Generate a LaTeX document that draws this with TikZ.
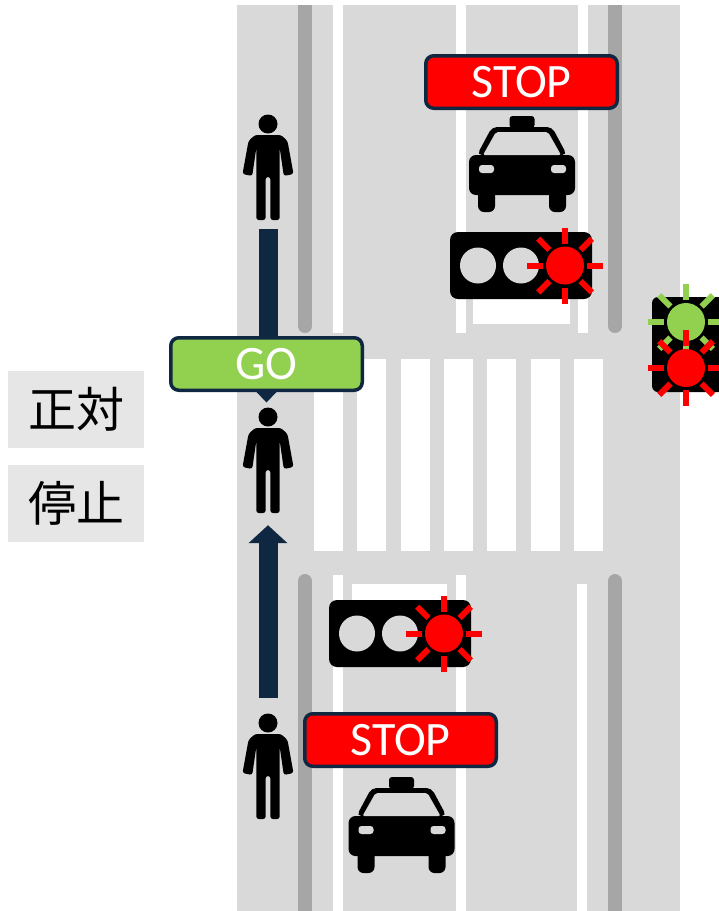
\documentclass[tikz,border=0pt]{standalone}
\usepackage{fontspec}
\usetikzlibrary{arrows.meta}
\newfontfamily\signfont{Carlito}
\newfontfamily\cjkfont{Noto Sans CJK JP}

\definecolor{roadgray}{HTML}{D9D9D9}
\definecolor{curbgray}{HTML}{A6A6A6}
\definecolor{taggray}{HTML}{E7E6E6}
\definecolor{navy}{HTML}{0F2740}
\definecolor{stopred}{HTML}{FF0000}
\definecolor{gogreen}{HTML}{92D050}

\tikzset{
  signbox/.style={draw=navy,line width=3.5pt,rounded corners=8pt,
    minimum width=191.5pt,minimum height=52.5pt,inner sep=0pt,
    text=white,font=\signfont\fontsize{48}{48}\selectfont},
  labelbox/.style={fill=taggray,minimum width=136pt,minimum height=77pt,inner sep=0pt,
    font=\cjkfont\fontsize{48}{48}\selectfont},
  curb/.style={curbgray,line width=14pt,line cap=round},
  laneline/.style={white,line width=10pt},
  walkbar/.style={navy,line width=19pt},
  walkarrow/.style={walkbar,-{Triangle[width=38pt,length=18pt]}},
  pics/lamp/.style={code={
    \foreach \a in {0,45,...,315}
      \draw[#1,line width=6pt] (\a:22) -- (\a:38);
    \fill[#1] (0,0) circle[radius=19];
  }},
  pics/signal/.style={code={
    \node[fill=black,rounded corners=8pt,minimum width=142pt,minimum height=67pt,inner sep=0pt] (-box) at (0,0) {};
    \fill[roadgray] (-43,0) circle[radius=18] (0,0) circle[radius=18];
    \pic at (44,0) {lamp=stopred};
  }},
  pics/walker/.style={code={
    \node[minimum width=51pt,minimum height=105.5pt,inner sep=0pt] (-box) at (0,43.25) {};
    \fill (0,0) circle[radius=9.5];
    \fill[rounded corners=2.5pt] (-11.7,96) -- (-11.7,24) -- (-15.8,52) -- (-25.5,50)
      -- (-19.5,17) -- (-13,11) -- (13,11) -- (19.5,17) -- (25.5,50) -- (15.8,52)
      -- (11.7,24) -- (11.7,96) -- (2.4,96) -- (2.4,53) -- (-2.4,53) -- (-2.4,96) -- cycle;
  }},
  pics/taxi/.style={code={
    \fill[rounded corners=3pt] (-12.5,-36) rectangle (12.5,-48);
    \fill[rounded corners=5pt] (-45,-9) -- (-30,-37) -- (30,-37) -- (45,-9) -- cycle;
    \fill[rounded corners=6pt] (-44,20) rectangle (-27,48) (27,20) rectangle (44,48);
    \fill[rounded corners=7pt] (-53,-9) rectangle (53,31);
    \fill[roadgray,rounded corners=2pt] (-39,-9) -- (-26,-32) -- (26,-32) -- (39,-9) -- cycle;
    \fill[roadgray,rounded corners=3pt] (-43,1) rectangle (-28,9) (29,1) rectangle (44,9);
  }}
}

\begin{document}
\begin{tikzpicture}[x=1pt,y=-1pt]
  \useasboundingbox (0,0) rectangle (719,911);
  % road surface with markings
  \fill[roadgray] (237,5) rectangle (680,911);
  \begin{scope}
    \clip (237,5) rectangle (680,911);
    \draw[curb] (305,-20) -- (305,326);
    \draw[curb] (615,-20) -- (615,326);
    \draw[laneline] (338,0) -- (338,333);
    \draw[laneline] (460.5,0) -- (460.5,333);
    \draw[laneline] (582.5,0) -- (582.5,333);
    \fill[white] (473,298) rectangle (570,324);
    \draw[curb] (305,581) -- (305,930);
    \draw[curb] (615,581) -- (615,930);
    \draw[laneline] (338,575) -- (338,911);
    \draw[laneline] (460.5,575) -- (460.5,911);
    \draw[laneline] (581.5,584) -- (581.5,911);
    \fill[white] (352,584) rectangle (447,610);
    \foreach \i in {0,...,6}
      \fill[white] ({314+43.3*\i},359) rectangle +(29,192);
  \end{scope}

  % pedestrians
  \pic (top) at (268,124) {walker};
  \pic (mid) at (268,417) {walker};
  \pic (low) at (268,723) {walker};
  \draw[walkbar,shorten <=9pt] (top-box.south) -- (top-box.south |- 0,364);
  \node[signbox,fill=gogreen] (go) at (266.5,364) {GO};
  \fill[navy] ([xshift=-10pt]go.south) -- ([xshift=10pt]go.south) -- ([yshift=-10.5pt]go.south) -- cycle;
  \draw[walkarrow,shorten <=15.5pt,shorten >=12pt] (low-box.north) -- (mid-box.south);

  % cars and their signals
  \node[signbox,fill=stopred] (stopfar) at (521.5,82) {STOP};
  \pic (taxifar) at (522,164) {taxi};
  \pic (sigfar) at (521,265.5) {signal};
  \pic (signear) at (400,633.5) {signal};
  \node[signbox,fill=stopred] (stopnear) at (400.5,740) {STOP};
  \pic (taxinear) at (401.5,825) {taxi};

  % pedestrian signal
  \begin{scope}
    \clip (0,0) rectangle (719,911);
    \node[fill=black,rounded corners=6pt,minimum width=78pt,minimum height=95pt,inner sep=0pt] (pedsig) at (691,344.5) {};
    \pic at (686,322) {lamp=gogreen};
    \pic at (686,368) {lamp=stopred};
  \end{scope}

  \node[labelbox] (facing) at (76,409.5) {正対};
  \node[labelbox] (halt) at (76,503) {停止};
\end{tikzpicture}
\end{document}
